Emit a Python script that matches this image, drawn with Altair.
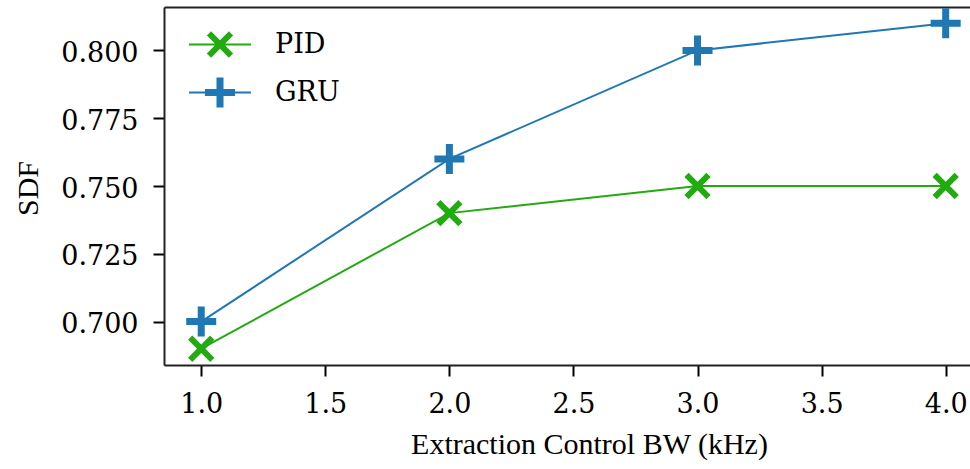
import altair as alt
import pandas as pd

# ---- data ----
bw_khz = [1.0, 2.0, 3.0, 4.0]
pid_sdf = [0.69, 0.74, 0.75, 0.75]
gru_sdf = [0.70, 0.76, 0.80, 0.81]
series_names = ["PID", "GRU"]
x_tick_values = [1.0, 1.5, 2.0, 2.5, 3.0, 3.5, 4.0]
y_tick_values = [0.700, 0.725, 0.750, 0.775, 0.800]

df = pd.DataFrame({
    "bw": bw_khz + bw_khz,
    "sdf": pid_sdf + gru_sdf,
    "series": [series_names[0]] * len(bw_khz) + [series_names[1]] * len(bw_khz),
})

GREEN = "#22aa11"
BLUE = "#1f77b4"
colors = [GREEN, BLUE]

# ---- marker geometry (custom symbol paths) ----
R = 31.0
SIZE = (2 * R) ** 2


def poly(pts, unit):
    area = 0.0
    for i in range(len(pts)):
        x1, y1 = pts[i]
        x2, y2 = pts[(i + 1) % len(pts)]
        area += x1 * y2 - x2 * y1
    if area < 0:
        pts = pts[::-1]
    return "M" + "L".join(f"{x / unit:.4f},{y / unit:.4f}" for x, y in pts) + "Z"


def plus_pts(a, t):
    return [(-t, -a), (t, -a), (t, -t), (a, -t), (a, t), (t, t), (t, a),
            (-t, a), (-t, t), (-a, t), (-a, -t), (-t, -t)]


def arm_pts(L, w, sx):
    a = 0.70710678
    dx, dy = L * a * sx, L * a
    nx, ny = -w * a * sx, w * a
    return [(dx + nx, dy + ny), (dx - nx, dy - ny), (-dx - nx, -dy - ny), (-dx + nx, -dy + ny)]


def x_path(unit):
    return poly(arm_pts(15.6, 3.0, 1), unit) + poly(arm_pts(15.6, 3.0, -1), unit)


def plus_path(unit):
    return poly(plus_pts(15.0, 3.5), unit)


def line_path(unit):
    return poly([(-31, -1.1), (31, -1.1), (31, 1.1), (-31, 1.1)], unit)


marker_paths = [x_path(R), plus_path(R)]
legend_paths = [line_path(R) + x_path(R), line_path(R) + plus_path(R)]

FONT_TICK = "DejaVu Serif"
FONT_TITLE = "Liberation Serif"

x_scale = alt.Scale(domain=[0.85, 4.098], nice=False, zero=False)
y_scale = alt.Scale(domain=[0.684, 0.816], nice=False, zero=False)
color_scale = alt.Scale(domain=series_names, range=colors)

x_axis = alt.Axis(
    values=x_tick_values, format=".1f", grid=False,
    labelFont=FONT_TICK, labelFontSize=27, labelColor="black",
    labelBaseline="alphabetic", labelPadding=36, labelFlush=False, labelOverlap=False,
    tickSize=11, tickWidth=2, tickColor="black",
    domainColor="#222222", domainWidth=2,
    title="Extraction Control BW (kHz)", titleFont=FONT_TITLE, titleFontSize=30,
    titleFontWeight="normal", titleColor="black",
    titleX=425, titleY=88, titleAlign="center", titleBaseline="alphabetic",
)
x_axis_top = alt.Axis(
    orient="top", labels=False, ticks=False, grid=False, title=None,
    domainColor="#222222", domainWidth=2,
)
y_axis = alt.Axis(
    values=y_tick_values, format=".3f", grid=False,
    labelFont=FONT_TICK, labelFontSize=27, labelColor="black",
    labelBaseline="alphabetic", labelOffset=11, labelPadding=15, labelFlush=False,
    labelOverlap=False,
    tickSize=11, tickWidth=2, tickColor="black",
    domainColor="#222222", domainWidth=2,
    title="SDF", titleFont=FONT_TITLE, titleFontSize=30, titleFontWeight="normal",
    titleColor="black", titleAngle=270, titleX=-127, titleY=181,
    titleAlign="center", titleBaseline="alphabetic",
)

legend = alt.Legend(
    orient="none", legendX=25, legendY=6.5, title=None, padding=0,
    symbolSize=SIZE, symbolStrokeWidth=0, symbolOpacity=1,
    labelFont=FONT_TICK, labelFontSize=27, labelColor="black",
    labelOffset=24, rowPadding=3,
)

base = alt.Chart(df)

lines = base.mark_line(strokeWidth=2).encode(
    x=alt.X("bw:Q", scale=x_scale, axis=x_axis),
    y=alt.Y("sdf:Q", scale=y_scale, axis=y_axis),
    color=alt.Color("series:N", scale=color_scale, legend=None),
    detail="series:N",
)

markers = base.mark_point(filled=True, opacity=1, strokeWidth=0, size=SIZE).encode(
    x=alt.X("bw:Q", scale=x_scale, axis=x_axis_top),
    y=alt.Y("sdf:Q", scale=y_scale, axis=None),
    color=alt.Color("series:N", scale=color_scale, legend=None),
    shape=alt.Shape("series:N", scale=alt.Scale(domain=series_names, range=marker_paths), legend=None),
)

legend_layer = base.mark_point(filled=True, opacity=0, strokeWidth=0, size=SIZE).encode(
    x=alt.X("bw:Q", scale=x_scale, axis=None),
    y=alt.Y("sdf:Q", scale=y_scale, axis=None),
    color=alt.Color("series:N", scale=color_scale, legend=legend),
    shape=alt.Shape("series:N", scale=alt.Scale(domain=series_names, range=legend_paths), legend=legend),
)

chart = (
    alt.layer(lines, markers, legend_layer)
    .resolve_scale(color="independent", shape="independent")
    .resolve_axis(x="independent", y="independent")
    .properties(
        width=806, height=358,
        autosize=alt.AutoSizeParams(type="none"),
        padding={"left": 164, "top": 7, "right": 0, "bottom": 104},
        background="white",
    )
    .configure_view(stroke=None)
)

chart.save("out.html", embed_options={"renderer": "svg", "actions": False})
